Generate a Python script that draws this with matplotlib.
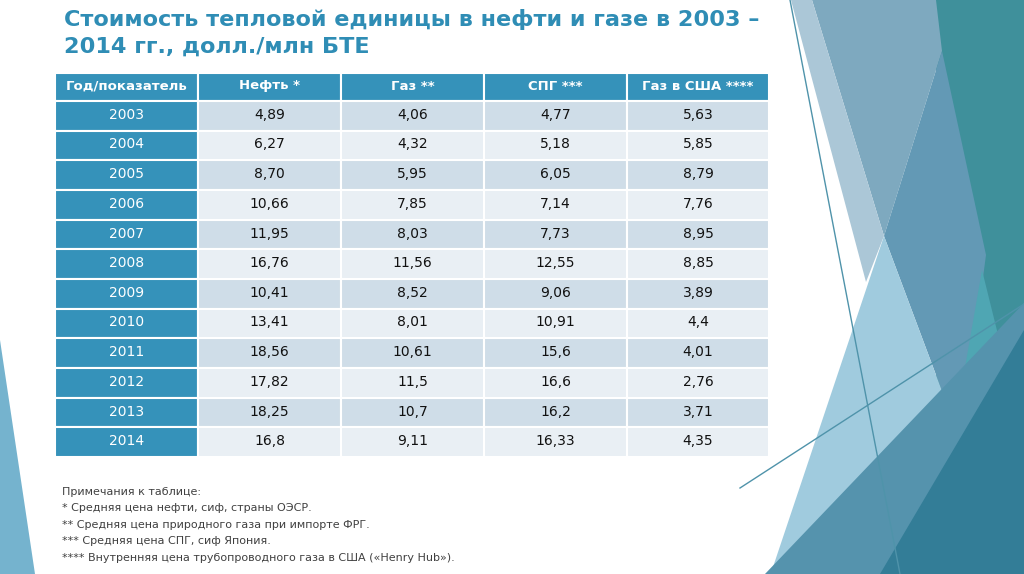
import matplotlib
matplotlib.use("Agg")
import matplotlib.pyplot as plt
from matplotlib.patches import Rectangle, Polygon

plt.rcParams['font.family'] = ['DejaVu Sans']

# table data
headers = ['Год/показатель', 'Нефть *', 'Газ **', 'СПГ ***', 'Газ в США ****']
years = ['2003', '2004', '2005', '2006', '2007', '2008', '2009', '2010', '2011', '2012', '2013', '2014']
oil = ['4,89', '6,27', '8,70', '10,66', '11,95', '16,76', '10,41', '13,41', '18,56', '17,82', '18,25', '16,8']
gas = ['4,06', '4,32', '5,95', '7,85', '8,03', '11,56', '8,52', '8,01', '10,61', '11,5', '10,7', '9,11']
lng = ['4,77', '5,18', '6,05', '7,14', '7,73', '12,55', '9,06', '10,91', '15,6', '16,6', '16,2', '16,33']
us_gas = ['5,63', '5,85', '8,79', '7,76', '8,95', '8,85', '3,89', '4,4', '4,01', '2,76', '3,71', '4,35']

title_lines = ['Стоимость тепловой единицы в нефти и газе в 2003 –',
               '2014 гг., долл./млн БТЕ']
notes = ['Примечания к таблице:',
         '* Средняя цена нефти, сиф, страны ОЭСР.',
         '** Средняя цена природного газа при импорте ФРГ.',
         '*** Средняя цена СПГ, сиф Япония.',
         '**** Внутренняя цена трубопроводного газа в США («Henry Hub»).']

W, H = 1024, 574
fig = plt.figure(figsize=(W / 100, H / 100), dpi=100)
ax = fig.add_axes([0, 0, 1, 1])
ax.set_xlim(0, W)
ax.set_ylim(H, 0)
ax.axis('off')

# slide decoration (theme shapes), pixel coordinates
deco = [
    ([(936, 0), (1024, 0), (1024, 574), (936, 574)], '#3f909b'),
    ([(812, 0), (936, 0), (942, 51), (884, 236)], '#7ea9bf'),
    ([(791, 0), (812, 0), (884, 236), (866, 282)], '#abc7d7'),
    ([(884, 236), (942, 51), (986, 255), (966, 405), (942, 391)], '#6399b5'),
    ([(884, 236), (942, 391), (772, 570)], '#a0cbde'),
    ([(949, 459), (982, 270), (1008, 375)], '#4fa6b3'),
    ([(765, 574), (1024, 303), (1024, 574)], '#5593ad'),
    ([(880, 574), (1024, 330), (1024, 574)], '#337d97'),
    ([(0, 340), (0, 574), (35, 574)], '#75b3ce'),
]
for pts, c in deco:
    ax.add_patch(Polygon(pts, closed=True, facecolor=c, edgecolor='none'))
ax.plot([790, 900], [0, 574], color='#4f93aa', lw=1)
ax.plot([740, 1024], [488, 304], color='#4f93aa', lw=1)

# title, fitted so the first line spans about 700 px
renderer = fig.canvas.get_renderer()
t1 = ax.text(64, 19, title_lines[0], color='#2f8db5', fontsize=16, fontweight='bold',
             va='center', ha='left')
w = t1.get_window_extent(renderer).width
fs = 16 * 700 / w
t1.set_fontsize(fs)
ax.text(64, 47, title_lines[1], color='#2f8db5', fontsize=fs, fontweight='bold',
        va='center', ha='left')

# table
col_edges = [55, 198, 341, 484, 627, 769]
top, head_h = 73, 28
row_h = (457 - 101) / len(years)
head_color = '#3592ba'
cols = [years, oil, gas, lng, us_gas]

for j, h in enumerate(headers):
    x0, x1 = col_edges[j], col_edges[j + 1]
    ax.add_patch(Rectangle((x0, top), x1 - x0, head_h, facecolor=head_color,
                           edgecolor='white', lw=1.5))
    ax.text((x0 + x1) / 2, top + head_h / 2 - 1, h, color='white', fontsize=9.5,
            fontweight='bold', ha='center', va='center')

for i in range(len(years)):
    y0 = top + head_h + i * row_h
    for j, col in enumerate(cols):
        x0, x1 = col_edges[j], col_edges[j + 1]
        if j == 0:
            fc = head_color
        else:
            fc = '#cfdde8' if i % 2 == 0 else '#e9eff4'
        ax.add_patch(Rectangle((x0, y0), x1 - x0, row_h, facecolor=fc,
                               edgecolor='white', lw=1.5))
        ax.text((x0 + x1) / 2, y0 + row_h / 2 - 1, col[i],
                color='white' if j == 0 else '#111111',
                fontsize=10, ha='center', va='center')

# notes
for k, line in enumerate(notes):
    ax.text(62, 492 + k * 16.4, line, color='#404040', fontsize=8.0,
            ha='left', va='center')

fig.savefig('out.png', dpi=100)
